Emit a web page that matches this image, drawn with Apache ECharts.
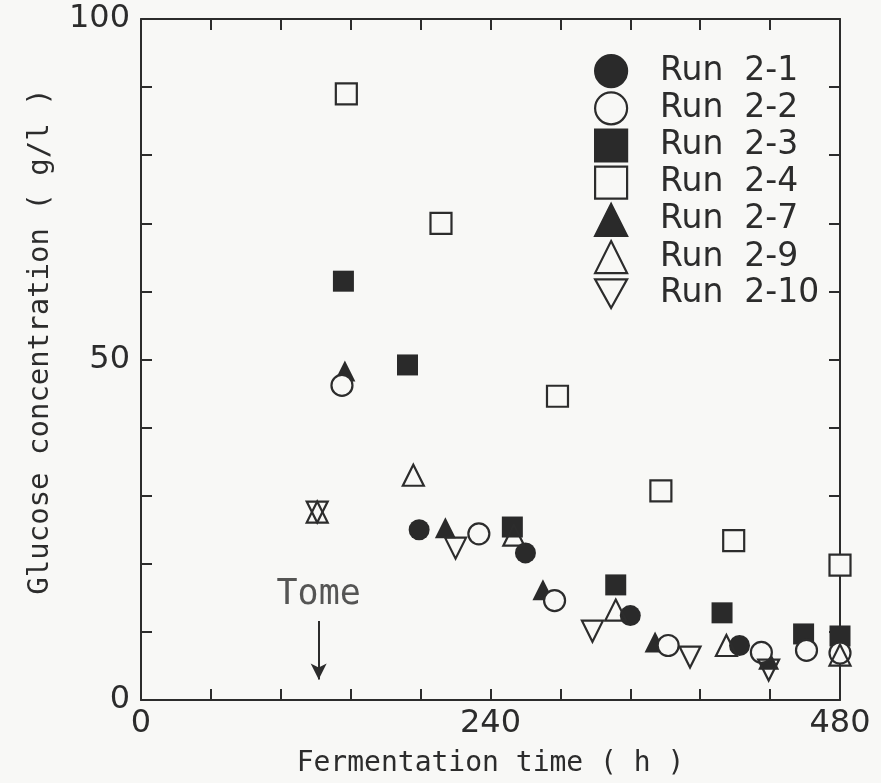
<!DOCTYPE html>
<html>
<head>
<meta charset="utf-8">
<script src="https://cdn.jsdelivr.net/npm/echarts@6/dist/echarts.min.js"></script>
<style>
html,body{margin:0;padding:0;background:#f8f8f6;}
#chart{width:881px;height:783px;}
</style>
</head>
<body>
<div id="chart"></div>
<script>
// ---- data ----
const seriesNames = ['Run 2-1','Run 2-2','Run 2-3','Run 2-4','Run 2-7','Run 2-9','Run 2-10'];
const run21_t = [191, 264, 336, 411];
const run21_g = [25.0, 21.6, 12.4, 8.0];
const run22_t = [138, 232, 284, 362, 426, 457, 480];
const run22_g = [46.2, 24.4, 14.6, 8.0, 7.0, 7.3, 6.9];
const run23_t = [139, 183, 255, 326, 399, 455, 480];
const run23_g = [61.5, 49.2, 25.4, 16.9, 12.8, 9.7, 9.4];
const run24_t = [141, 206, 286, 357, 407, 480];
const run24_g = [89.0, 70.0, 44.6, 30.7, 23.4, 19.8];
const run27_t = [140, 209, 276, 353, 431];
const run27_g = [48.3, 25.3, 16.2, 8.5, 6.0];
const run29_t = [121, 187, 256, 326, 402, 480];
const run29_g = [27.6, 33.0, 24.2, 13.2, 8.0, 6.6];
const run210_t = [121, 216, 310, 377, 431];
const run210_g = [27.6, 22.3, 10.1, 6.3, 4.4];
const xTicks = [0, 240, 480];
const yTicks = [0, 50, 100];
const tomeTime = 122;

const INK = '#2c2c2c';
const FILL = '#2a2a2a';
const BG = '#f8f8f6';
const downTri = 'path://M0,0 L20,0 L10,18 Z';

function pts(t, g){ return t.map((v,i)=>[v, g[i]]); }

// fillMode: 'solid' | 'bg' (hollow, hides what is below) | 'none' (hollow, see-through)
const defs = [
  {name: seriesNames[0], data: pts(run21_t, run21_g), symbol:'circle', fillMode:'solid'},
  {name: seriesNames[1], data: pts(run22_t, run22_g), symbol:'circle', fillMode:'bg'},
  {name: seriesNames[2], data: pts(run23_t, run23_g), symbol:'rect', fillMode:'solid'},
  {name: seriesNames[3], data: pts(run24_t, run24_g), symbol:'rect', fillMode:'bg'},
  {name: seriesNames[4], data: pts(run27_t, run27_g), symbol:'triangle', fillMode:'solid'},
  {name: seriesNames[5], data: pts(run29_t, run29_g), symbol:'triangle', fillMode:'none'},
  {name: seriesNames[6], data: pts(run210_t, run210_g), symbol:downTri, fillMode:'none'}
];

const series = defs.map(d => ({
  type: 'scatter',
  name: d.name,
  data: d.data,
  symbol: d.symbol,
  symbolSize: 21,
  z: d.fillMode === 'solid' ? 2 : 3,
  itemStyle: {
    color: d.fillMode === 'solid' ? FILL : (d.fillMode === 'bg' ? BG : 'rgba(0,0,0,0)'),
    borderColor: d.fillMode === 'solid' ? FILL : INK,
    borderWidth: d.fillMode === 'solid' ? 0 : 2.2,
    opacity: 1
  },
  emphasis: {disabled: true}
}));

// "Tome" annotation in data coordinates
series.push({
  type: 'scatter',
  name: 'Tome',
  data: [[tomeTime, 15.4]],
  symbolSize: 0,
  silent: true,
  label: {
    show: true, position: 'inside', formatter: 'Tome',
    fontFamily: 'DejaVu Sans Mono', fontSize: 35, color: INK
  },
  markLine: {
    silent: true,
    symbol: ['none', 'arrow'],
    symbolSize: [12, 16],
    label: {show: false},
    lineStyle: {color: INK, width: 2, type: 'solid'},
    data: [[{coord: [tomeTime, 11.6]}, {coord: [tomeTime, 3.0]}]]
  }
});

const chart = echarts.init(document.getElementById('chart'), null, {renderer: 'canvas'});
const axisLine = {show: true, onZero: false, lineStyle: {color: INK, width: 2}};
const tick = {show: true, inside: true, length: 11, lineStyle: {color: INK, width: 2}};
const labelFont = {fontFamily: 'DejaVu Sans', fontSize: 32, color: INK};

chart.setOption({
  backgroundColor: BG,
  animation: false,
  grid: {left: 141, right: 41, top: 19, bottom: 79, containLabel: false},
  legend: {
    data: seriesNames,
    orient: 'vertical',
    left: 589,
    top: 49,
    itemWidth: 32,
    itemHeight: 32,
    itemGap: 3,
    selectedMode: false,
    formatter: n => n.replace(' ', '  '),
    textStyle: {fontFamily: 'DejaVu Sans', fontSize: 33, lineHeight: 32, color: INK, padding: [0, 0, 0, 28]},
    itemStyle: {borderWidth: 2.2}
  },
  xAxis: [
    {
      type: 'value', min: 0, max: 480, interval: 48, position: 'bottom',
      axisLine: axisLine, axisTick: tick, splitLine: {show: false},
      axisLabel: Object.assign({margin: 8, formatter: v => xTicks.includes(v) ? String(v) : ''}, labelFont),
      name: 'Fermentation time ( h )', nameLocation: 'middle', nameGap: 50,
      nameTextStyle: {fontFamily: 'DejaVu Sans Mono', fontSize: 28, color: INK}
    },
    {
      type: 'value', min: 0, max: 480, interval: 48, position: 'top',
      axisLine: axisLine, axisTick: tick, splitLine: {show: false},
      axisLabel: {show: false}
    }
  ],
  yAxis: [
    {
      type: 'value', min: 0, max: 100, interval: 10, position: 'left',
      axisLine: axisLine, axisTick: tick, splitLine: {show: false},
      axisLabel: Object.assign({margin: 11, formatter: v => yTicks.includes(v) ? String(v) : ''}, labelFont),
      name: 'Glucose concentration ( g/l )', nameLocation: 'middle', nameGap: 86, nameRotate: 90,
      nameTextStyle: {fontFamily: 'DejaVu Sans Mono', fontSize: 29, color: INK, padding: [0, 0, 0, 36]}
    },
    {
      type: 'value', min: 0, max: 100, interval: 10, position: 'right',
      axisLine: axisLine, axisTick: tick, splitLine: {show: false},
      axisLabel: {show: false}
    }
  ],
  series: series
});
</script>
</body>
</html>
